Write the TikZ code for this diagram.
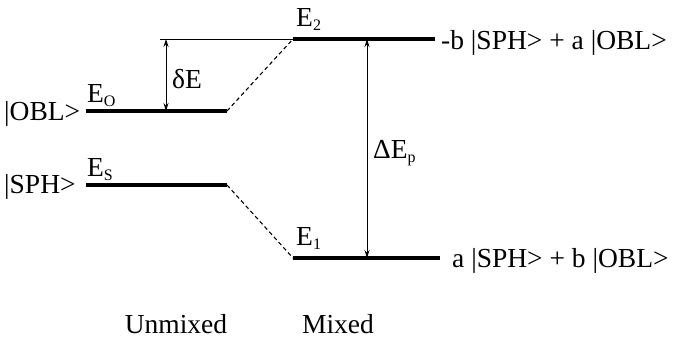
\documentclass[tikz,border=0pt]{standalone}
\usepackage{fontspec}
\setmainfont{Liberation Serif}
\usetikzlibrary{arrows.meta}
% subscript for the level names
\newcommand{\lvsub}[1]{\raisebox{-0.16em}{\fontsize{16}{16}\selectfont #1}}
\tikzset{
  level/.style={line width=3.2pt},
  thinline/.style={line width=0.9pt},
  mixline/.style={line width=1.1pt, dash pattern=on 4pt off 3pt},
  gap/.style={line width=0.9pt, {Stealth[length=8pt,width=5pt]}-{Stealth[length=8pt,width=5pt]}},
  lbl/.style={inner sep=0pt, font=\fontsize{27.5}{30}\selectfont},
}
\begin{document}
\begin{tikzpicture}[x=1pt,y=-1pt]
\useasboundingbox (0,0) rectangle (675,338);
% unmixed levels
\coordinate (oblL) at (86,111);  \coordinate (oblR) at (227,111);
\coordinate (sphL) at (86,185);  \coordinate (sphR) at (227,185);
% mixed levels
\coordinate (e2L) at (293,39);   \coordinate (e2R) at (435,39);
\coordinate (e1L) at (293,258);  \coordinate (e1R) at (440,258);
% reference line and arrow ends
\coordinate (refL) at (160,39);
\coordinate (dTop) at (166,39);  \coordinate (dBot) at (166,111);
\coordinate (pTop) at (367,39);  \coordinate (pBot) at (367,258);

\draw[level] (oblL) -- (oblR);
\draw[level] (sphL) -- (sphR);
\draw[level] (e2L) -- (e2R);
\draw[level] (e1L) -- (e1R);
\draw[thinline] (refL) -- (e2L);
\draw[mixline] (oblR) -- (e2L);
\draw[mixline] (sphR) -- (e1L);
\draw[gap] (dTop) -- (dBot);
\draw[gap] (pTop) -- (pBot);

% labels
\node[lbl, anchor=base west] (tobl) at (4,120) {|OBL>};
\node[lbl, anchor=base west] (tsph) at (4,193) {|SPH>};
\node[lbl, anchor=base west] (teo) at (87,102) {E\lvsub{O}};
\node[lbl, anchor=base west] (tes) at (87,176) {E\lvsub{S}};
\node[lbl, anchor=base west] (te2) at (296,26) {E\lvsub{2}};
\node[lbl, anchor=base west] (te1) at (296,245) {E\lvsub{1}};
\node[lbl, anchor=base west] (tde) at (172,88) {δE};
\node[lbl, anchor=base west] (tdp) at (373,158) {ΔE\lvsub{p}};
\node[lbl, anchor=base west] (tup) at (441,49) {-b |SPH> + a |OBL>};
\node[lbl, anchor=base west] (tlo) at (452,267) {a |SPH> + b |OBL>};
\node[lbl, anchor=base] (tun) at (176,333) {Unmixed};
\node[lbl, anchor=base] (tmx) at (338,333) {Mixed};
\end{tikzpicture}
\end{document}
